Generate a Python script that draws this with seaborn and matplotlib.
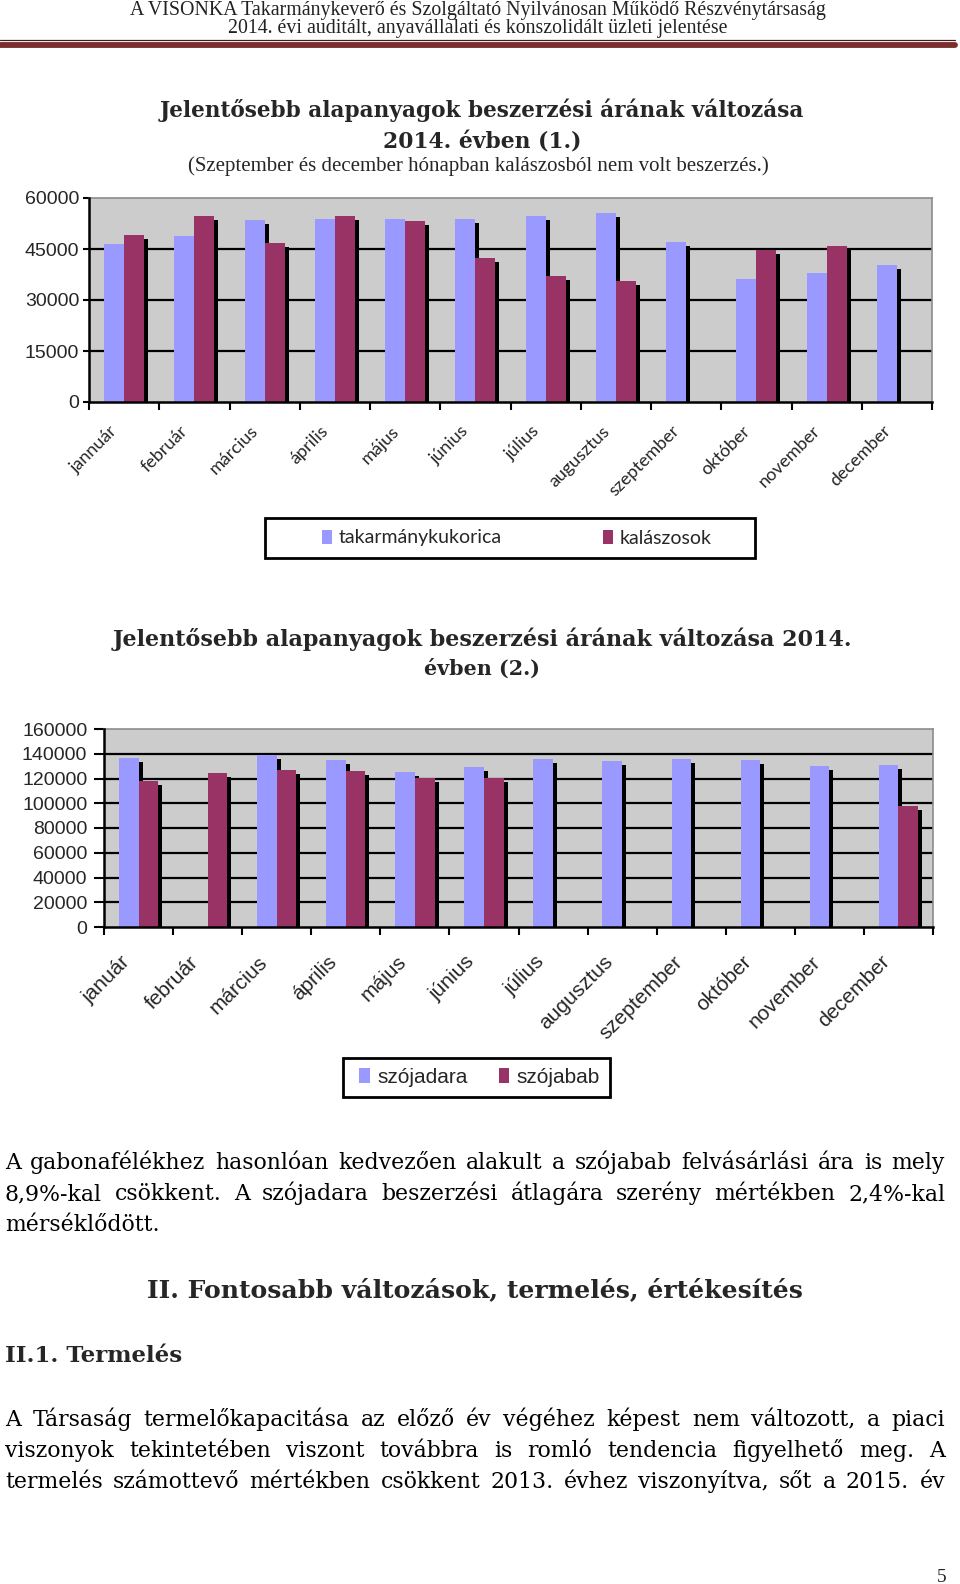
import numpy as np
import pandas as pd
import matplotlib
matplotlib.use('Agg')
import matplotlib.pyplot as plt
import matplotlib.transforms as mtransforms
from matplotlib.patches import Rectangle, Patch
from matplotlib.lines import Line2D
import seaborn as sns

sns.set_theme(style='white')
plt.rcParams['font.family'] = ['DejaVu Sans']

W, H = 960, 1584

# ── data ────────────────────────────────────────────────────────────────────
MONTHS_1 = ['jannuár', 'február', 'március', 'április', 'május', 'június',
            'július', 'augusztus', 'szeptember', 'október', 'november', 'december']
MONTHS_2 = ['január', 'február', 'március', 'április', 'május', 'június',
            'július', 'augusztus', 'szeptember', 'október', 'november', 'december']
NAN = np.nan
KUKORICA = [46600, 48700, 53400, 53700, 53700, 53700, 54800, 55600, 47100, 36200, 38000, 40400]
KALASZOS = [49200, 54700, 46800, 54700, 53300, 42500, 37000, 35500, NAN, 44700, 45900, NAN]
SZOJADARA = [136800, NAN, 139200, 134600, 125100, 129200, 135400, 134000, 135600, 134600, 130000, 130800]
SZOJABAB = [117800, 124600, 126500, 125700, 120200, 120600, NAN, NAN, NAN, NAN, NAN, 98100]
SERIES_1 = ['takarmánykukorica', 'kalászosok']
SERIES_2 = ['szójadara', 'szójabab']

LIGHT = '#9999FF'
DARK = '#993366'
PLOT_BG = '#CCCCCC'

fig = plt.figure(figsize=(9.6, 15.84), dpi=100)
fig.patch.set_facecolor('white')
renderer = fig.canvas.get_renderer()


def put(x, y, s, width=None, size=12, ha='center', va='center', **kw):
    t = fig.text(x / W, 1 - y / H, s, fontsize=size, ha=ha, va=va, **kw)
    if width:
        w = t.get_window_extent(renderer).width
        t.set_fontsize(size * width / w)
    return t


def justify(line, y, size, x0=5, x1=945, **kw):
    words = line.split()
    ts = [fig.text(0, 1 - y / H, w, fontsize=size, va='baseline', **kw) for w in words]
    widths = [t.get_window_extent(renderer).width for t in ts]
    gap = (x1 - x0 - sum(widths)) / (len(words) - 1)
    x = x0
    for t, w in zip(ts, widths):
        t.set_x(x / W)
        x += w + gap


def chart(rect, labels, s1, s2, names, ymax, ystep, lab_kw, lab_dx, xpad, ylen, ypad):
    ax = fig.add_axes([rect[0] / W, 1 - rect[3] / H,
                       (rect[2] - rect[0]) / W, (rect[3] - rect[1]) / H])
    df = pd.DataFrame({
        'month': labels * 2,
        'series': [names[0]] * len(labels) + [names[1]] * len(labels),
        'value': list(s1) + list(s2),
    })
    sns.barplot(data=df, x='month', y='value', hue='series', order=labels,
                hue_order=names, palette=[LIGHT, DARK], width=0.57, gap=0,
                errorbar=None, legend=False, saturation=1, linewidth=0,
                zorder=3, ax=ax)
    # drop shadow of the Excel bars
    off = mtransforms.ScaledTranslation(4 / 100, -4 / 100, fig.dpi_scale_trans)
    for p in list(ax.patches):
        h = p.get_height()
        if not np.isfinite(h) or h <= 0:
            continue
        ax.add_patch(Rectangle((p.get_x(), 0), p.get_width(), h,
                               transform=ax.transData + off, fc='black',
                               ec='none', zorder=2))
    ax.set_facecolor(PLOT_BG)
    for yv in range(ystep, ymax, ystep):
        ax.axhline(yv, color='black', lw=1.6, zorder=1)
    ax.set_xlim(-0.5, len(labels) - 0.5)
    ax.set_ylim(0, ymax)
    ax.set_xlabel('')
    ax.set_ylabel('')
    for s in ['left', 'bottom']:
        ax.spines[s].set(color='black', lw=1.8, zorder=4)
    for s in ['top', 'right']:
        ax.spines[s].set(color='#8c8c8c', lw=1.2)
    ax.set_yticks(range(0, ymax + 1, ystep))
    ax.set_yticklabels([str(v) for v in range(0, ymax + 1, ystep)],
                       fontsize=14, family='Liberation Sans')
    ax.tick_params(axis='y', left=True, length=ylen, width=1.5, pad=ypad,
                   color='black', direction='out')
    ax.set_xticks(range(len(labels)))
    ax.set_xticklabels(labels, rotation=45, ha='right', va='center',
                       rotation_mode='anchor', **lab_kw)
    ax.tick_params(axis='x', which='major', bottom=True, length=0, pad=xpad)
    ax.set_xticks(np.arange(-0.5, len(labels), 1), minor=True)
    ax.tick_params(axis='x', which='minor', bottom=True, length=6, width=1.5,
                   color='black', direction='out')
    shift = mtransforms.ScaledTranslation(lab_dx / 100, 0, fig.dpi_scale_trans)
    for lbl in ax.get_xticklabels():
        lbl.set_transform(lbl.get_transform() + shift)
    return ax


def legend_box(x0, y0, x1, y1, names, prop, colspace, dx=0):
    fig.add_artist(Rectangle((x0 / W, 1 - y1 / H), (x1 - x0) / W, (y1 - y0) / H,
                             transform=fig.transFigure, fill=False, ec='black',
                             lw=2))
    handles = [Patch(fc=LIGHT, ec='none'), Patch(fc=DARK, ec='none')]
    fig.legend(handles, names, loc='center',
               bbox_to_anchor=((x0 + x1) / 2 / W + dx / W, 1 - (y0 + y1) / 2 / H),
               frameon=False, ncol=2, handlelength=0.5, handleheight=0.7,
               handletextpad=0.35, columnspacing=colspace, prop=prop)


# ── page header ─────────────────────────────────────────────────────────────
put(478, 11, 'A VISONKA Takarmánykeverő és Szolgáltató Nyilvánosan Működő Részvénytársaság',
    size=14.3, family='Liberation Serif', color='#222222')
put(478, 29, '2014. évi auditált, anyavállalati és konszolidált üzleti jelentése',
    size=14.3, family='Liberation Serif', color='#222222')
fig.add_artist(Line2D([0, 955 / W], [1 - 39.5 / H] * 2, color='#4a1a1a', lw=0.9,
                      transform=fig.transFigure))
fig.add_artist(Line2D([0, 955 / W], [1 - 45 / H] * 2, color='#7b2d2d', lw=4.2,
                      transform=fig.transFigure))

# ── chart 1 ─────────────────────────────────────────────────────────────────
put(482, 110, 'Jelentősebb alapanyagok beszerzési árának változása', width=645,
    family='DejaVu Serif', weight='bold')
put(482, 143, '2014. évben (1.)', width=198, family='DejaVu Serif', weight='bold')
put(478, 166, '(Szeptember és december hónapban kalászosból nem volt beszerzés.)',
    width=580, family='Liberation Serif')

chart((89, 198, 932, 402), MONTHS_1, KUKORICA, KALASZOS, SERIES_1, 60000, 15000,
      dict(fontsize=13, family='Lato'), -9, 19, 4, 3)
legend_box(265, 518, 755, 558, SERIES_1, dict(family='Lato', size=14), 5.2, dx=7)

# ── chart 2 ─────────────────────────────────────────────────────────────────
put(482, 639, 'Jelentősebb alapanyagok beszerzési árának változása 2014.', width=738,
    family='DejaVu Serif', weight='bold')
put(482, 669, 'évben (2.)', width=116, family='DejaVu Serif', weight='bold')

chart((104, 729, 933, 927), MONTHS_2, SZOJADARA, SZOJABAB, SERIES_2, 160000, 20000,
      dict(fontsize=15, family='Liberation Sans'), -12, 23, 7, 5)
legend_box(343, 1058, 610, 1097, SERIES_2, dict(family='Liberation Sans', size=15), 1.5,
           dx=3)

# ── body text ───────────────────────────────────────────────────────────────
BODY = dict(family='DejaVu Serif', color='black')
probe = fig.text(0, 0, 'A gabonafélékhez hasonlóan kedvezően alakult a szójabab felvásárlási ára is mely',
                 fontsize=12, **BODY)
BODY_SIZE = 12 * 912 / probe.get_window_extent(renderer).width
probe.remove()

justify('A gabonafélékhez hasonlóan kedvezően alakult a szójabab felvásárlási ára is mely',
        1169, BODY_SIZE, **BODY)
justify('8,9%-kal csökkent.  A szójadara beszerzési átlagára szerény mértékben 2,4%-kal',
        1200, BODY_SIZE, **BODY)
fig.text(5 / W, 1 - 1231 / H, 'mérséklődött.', fontsize=BODY_SIZE, va='baseline', **BODY)

put(475, 1290, 'II. Fontosabb változások, termelés, értékesítés', width=656,
    family='DejaVu Serif', weight='bold')
put(5, 1356, 'II.1. Termelés', width=177, ha='left', family='DejaVu Serif',
    weight='bold')

justify('A Társaság termelőkapacitása az előző év végéhez képest nem változott, a piaci',
        1426, BODY_SIZE, **BODY)
justify('viszonyok tekintetében viszont továbbra is romló tendencia figyelhető meg. A',
        1457, BODY_SIZE, **BODY)
justify('termelés számottevő mértékben csökkent 2013. évhez viszonyítva, sőt a 2015. év',
        1488, BODY_SIZE, **BODY)

put(942, 1577, '5', size=14, family='Liberation Serif')

fig.savefig('out.png', dpi=100, facecolor='white')
